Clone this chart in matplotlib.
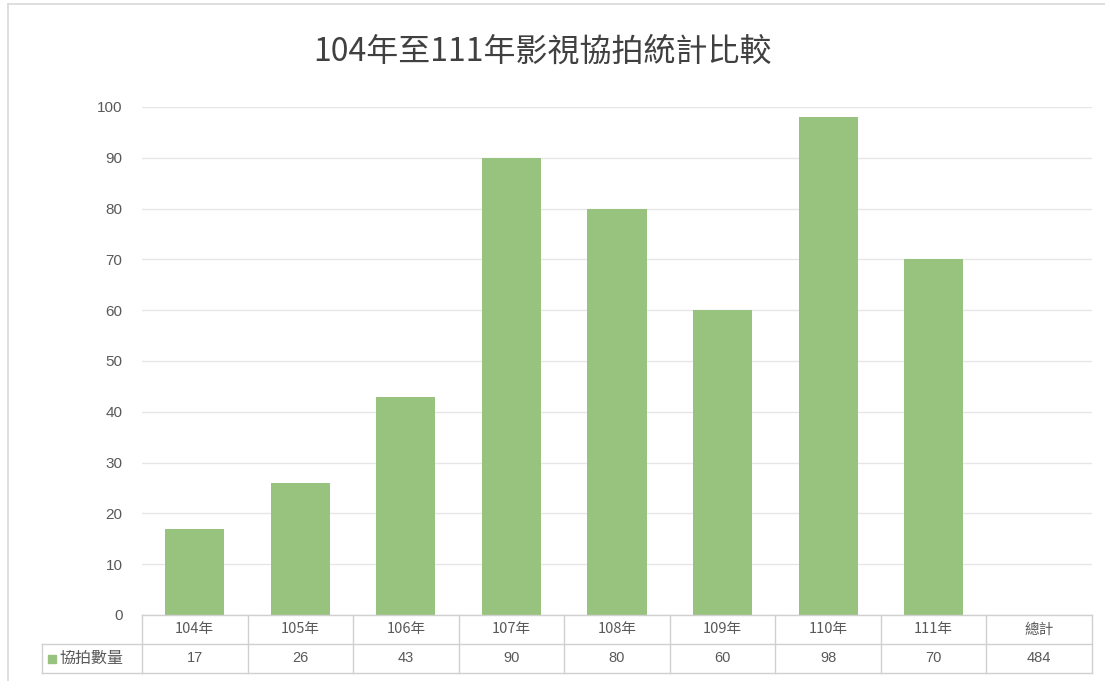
import matplotlib
matplotlib.use("Agg")
import matplotlib.pyplot as plt
from matplotlib.patches import Rectangle
from matplotlib.lines import Line2D

plt.rcParams['font.family'] = ['Noto Sans CJK TC', 'DejaVu Sans']

# 資料
years = ['104年', '105年', '106年', '107年', '108年', '109年', '110年', '111年']
counts = [17, 26, 43, 90, 80, 60, 98, 70]
total_label = '總計'
total_value = 484
series_name = '協拍數量'
title = '104年至111年影視協拍統計比較'

W, H = 1105, 681
bar_color = '#98c37e'
grid_color = '#e6e6e6'
line_color = '#d0d0d0'
text_color = '#595959'

fig = plt.figure(figsize=(W / 100, H / 100), dpi=100)
fig.patch.set_facecolor('white')

left, right, top, bottom = 142, 1092, 107, 615
ax = fig.add_axes([left / W, 1 - bottom / H, (right - left) / W, (bottom - top) / H])

cols = years + [total_label]
xs = list(range(len(cols)))
ax.bar(xs[:len(counts)], counts, width=0.56, color=bar_color, zorder=2)

ax.set_xlim(-0.5, len(cols) - 0.5)
ax.set_ylim(0, 100)
ax.set_yticks(range(0, 101, 10))
ax.yaxis.grid(True, color=grid_color, linewidth=1, zorder=0)
ax.set_xticks([])
for s in ax.spines.values():
    s.set_visible(False)
ax.tick_params(axis='y', length=0, pad=14, labelsize=11, labelcolor=text_color)
for lab in ax.get_yticklabels():
    lab.set_fontfamily(['Liberation Sans', 'DejaVu Sans'])

# 資料表（畫在座標軸下方）
row_h = 29 / (bottom - top)
tr = ax.get_xaxis_transform()
kw = dict(transform=tr, clip_on=False, color=line_color, linewidth=1)

# 橫線
ax.add_line(Line2D([-0.5, len(cols) - 0.5], [0, 0], **kw))
ax.add_line(Line2D([-0.5, len(cols) - 0.5], [-row_h, -row_h], **kw))
ax.add_line(Line2D([-0.5, len(cols) - 0.5], [-2 * row_h, -2 * row_h], **kw))
# 直線
for i in range(len(cols) + 1):
    ax.add_line(Line2D([i - 0.5, i - 0.5], [0, -2 * row_h], **kw))

# 圖例儲存格
cell_w = (right - left) / len(cols)
leg_left = -0.5 - (left - 42) / cell_w
ax.add_line(Line2D([leg_left, -0.5], [-row_h, -row_h], **kw))
ax.add_line(Line2D([leg_left, -0.5], [-2 * row_h, -2 * row_h], **kw))
ax.add_line(Line2D([leg_left, leg_left], [-row_h, -2 * row_h], **kw))

sq = 8 / cell_w
ax.add_patch(Rectangle((leg_left + 6 / cell_w, -1.5 * row_h - 4 / (bottom - top)), sq, 8 / (bottom - top),
                       transform=tr, clip_on=False, color=bar_color))
ax.text(leg_left + 17 / cell_w, -1.5 * row_h, series_name, transform=tr, ha='left', va='center',
        fontsize=11.5, color=text_color)

values_row = counts + [total_value]
for i, c in enumerate(cols):
    ax.text(i, -0.5 * row_h, c, transform=tr, ha='center', va='center', fontsize=10.5, color=text_color)
    ax.text(i, -1.5 * row_h, str(values_row[i]), transform=tr, ha='center', va='center',
            fontsize=10.5, color=text_color, family=['Liberation Sans', 'DejaVu Sans'])

fig.text(543 / W, 1 - 52 / H, title, ha='center', va='center', fontsize=23, color='#404040',
         fontweight='medium')

# 外框
fig.add_artist(Line2D([8 / W, 8 / W], [0, 1 - 4 / H], transform=fig.transFigure, color='#d9d9d9', linewidth=1.2))
fig.add_artist(Line2D([8 / W, 1], [1 - 4 / H, 1 - 4 / H], transform=fig.transFigure, color='#d9d9d9', linewidth=1.2))

fig.savefig('out.png', dpi=100, facecolor='white')
